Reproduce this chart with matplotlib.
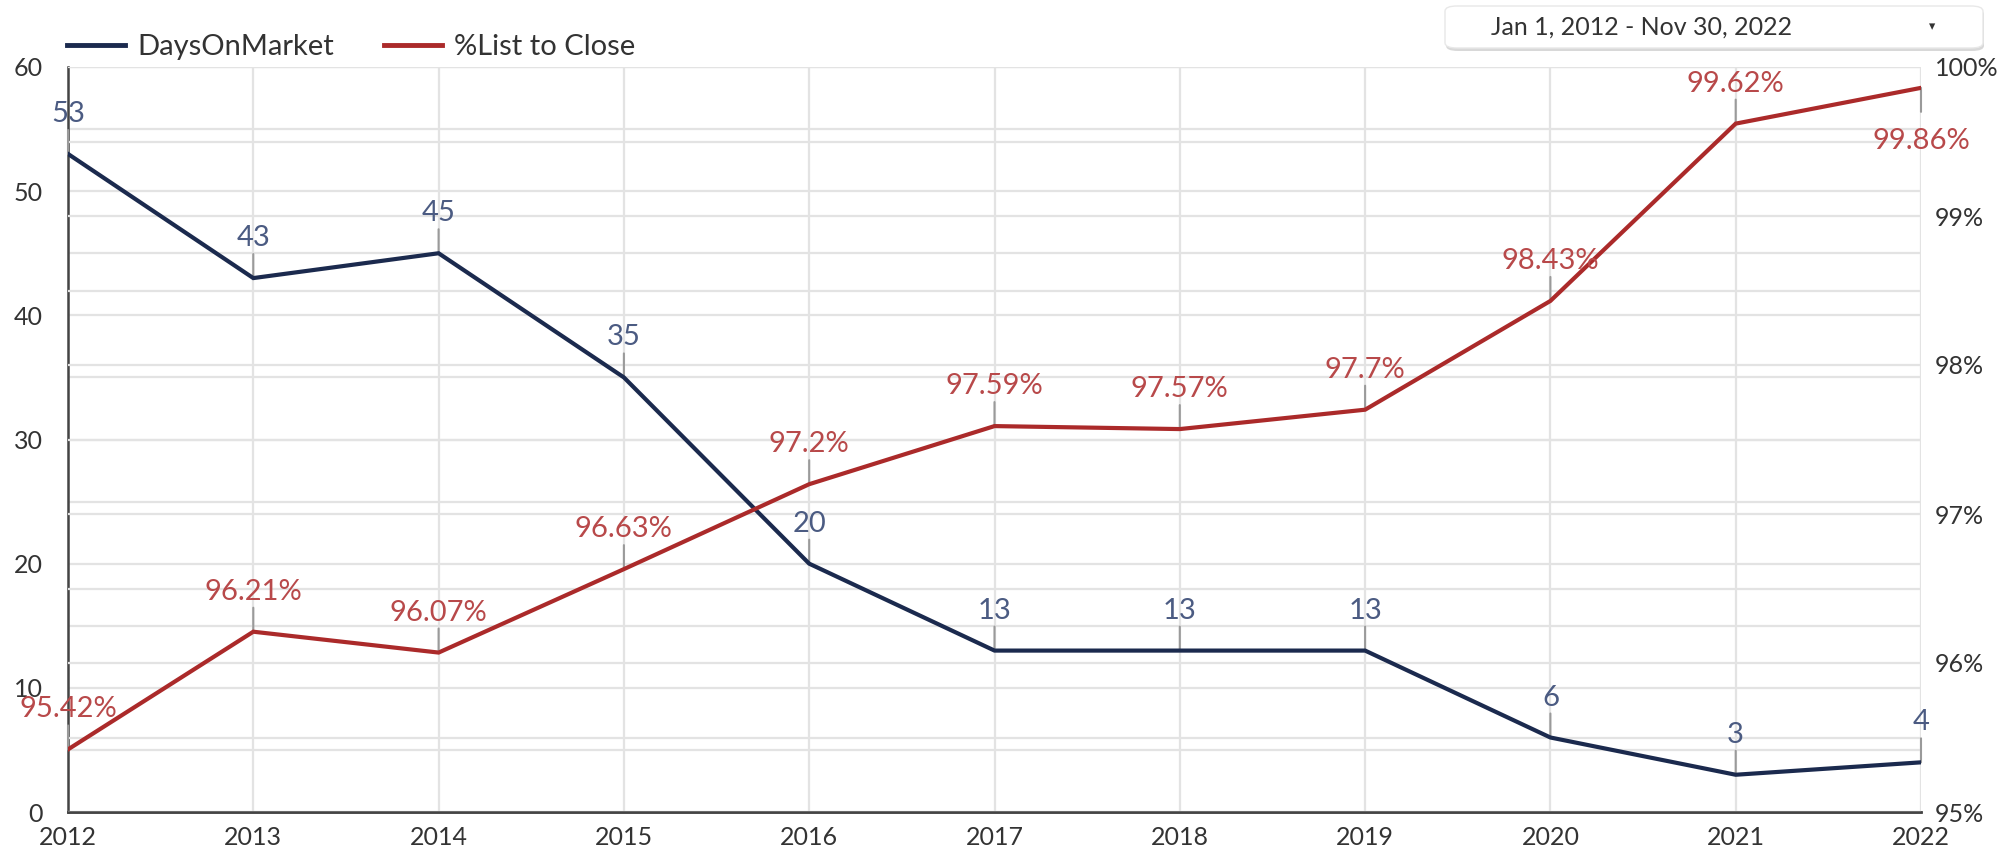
import matplotlib
matplotlib.use("Agg")
import matplotlib.pyplot as plt
from matplotlib.patches import FancyBboxPatch
from matplotlib.lines import Line2D
import numpy as np

plt.rcParams['font.family'] = ['Lato', 'DejaVu Sans']

years = [2012, 2013, 2014, 2015, 2016, 2017, 2018, 2019, 2020, 2021, 2022]
days_on_market = [53, 43, 45, 35, 20, 13, 13, 13, 6, 3, 4]
list_to_close = [95.42, 96.21, 96.07, 96.63, 97.2, 97.59, 97.57, 97.7, 98.43, 99.62, 99.86]
list_labels = ["95.42%", "96.21%", "96.07%", "96.63%", "97.2%", "97.59%", "97.57%",
               "97.7%", "98.43%", "99.62%", "99.86%"]
left_ticks = [0, 10, 20, 30, 40, 50, 60]
right_ticks = [95, 96, 97, 98, 99, 100]
right_tick_labels = ["95%", "96%", "97%", "98%", "99%", "100%"]
series_names = ["DaysOnMarket", "%List to Close"]
date_range_text = "Jan 1, 2012 - Nov 30, 2022"

NAVY = "#1b2a4e"
NAVY_LBL = "#4b5b82"
RED = "#ab2a2a"
RED_LBL = "#b8494a"
GRID = "#e3e3e3"
TXT = "#333333"

W, H = 2010, 857
fig = plt.figure(figsize=(W / 100, H / 100), dpi=100)
L, R, T, B = 68, 1921, 67, 812
ax = fig.add_axes([L / W, 1 - B / H, (R - L) / W, (B - T) / H])
ax2 = ax.twinx()

ax.set_xlim(2012, 2022)
ax.set_ylim(0, 60)
ax2.set_ylim(95, 100)

# grids
ax.set_xticks(years)
ax.set_yticks(left_ticks)
ax.set_yticks(np.arange(0, 61, 5), minor=True)
ax2.set_yticks(right_ticks)
ax2.set_yticks(np.arange(95, 100.01, 0.5), minor=True)
for a in (ax, ax2):
    a.set_axisbelow(True)
ax.grid(True, which='both', axis='both', color=GRID, lw=1.6)
ax2.grid(True, which='both', axis='y', color=GRID, lw=1.6)
ax.tick_params(axis='y', which='both', length=0, labelsize=18, labelcolor=TXT, pad=18)
ax.tick_params(axis='x', which='both', length=0, labelsize=18, labelcolor=TXT, pad=10)
ax2.tick_params(axis='y', which='both', length=0, labelsize=18, labelcolor=TXT, pad=10)
ax.set_xticklabels([str(y) for y in years])
ax2.set_yticklabels(right_tick_labels)

for a in (ax, ax2):
    for s in ('top', 'right'):
        a.spines[s].set_visible(False)
    a.spines['left'].set_color('#444444')
    a.spines['left'].set_linewidth(1.8)
    a.spines['bottom'].set_color('#444444')
    a.spines['bottom'].set_linewidth(1.8)
ax2.spines['left'].set_visible(False)

# lines (all on ax2 so they sit above every gridline)
ax2.plot(years, days_on_market, color=NAVY, lw=3, transform=ax.transData,
         solid_joinstyle='miter', zorder=5)
ax2.plot(years, list_to_close, color=RED, lw=3, solid_joinstyle='miter', zorder=5)

STUB = 24
GAP = 3
def label(x, y, text, color, trans, below=False):
    sign = -1 if below else 1
    ax2.annotate("", xy=(x, y), xycoords=trans, xytext=(0, sign * STUB),
                 textcoords='offset pixels',
                 arrowprops=dict(arrowstyle='-', color='#9a9a9a', lw=1.5,
                                 shrinkA=0, shrinkB=0), zorder=4)
    off = (STUB + GAP) if not below else (STUB + 16)
    ax2.annotate(text, xy=(x, y), xycoords=trans,
                 xytext=(0, sign * off), textcoords='offset pixels',
                 ha='center', va='top' if below else 'bottom', fontsize=21,
                 color=color, zorder=6, annotation_clip=False)

for x, v in zip(years, days_on_market):
    label(x, v, str(v), NAVY_LBL, ax.transData)
for i, (x, v) in enumerate(zip(years, list_to_close)):
    label(x, v, list_labels[i], RED_LBL, ax2.transData, below=(i == len(years) - 1))

# legend
leg_y = 1 - 47 / H
handles = [Line2D([], [], color=NAVY, lw=3.5), Line2D([], [], color=RED, lw=3.5)]
fig.legend(handles, series_names, loc='center left', bbox_to_anchor=(67 / W, leg_y),
           ncol=2, frameon=False, fontsize=21, handlelength=2.0, handletextpad=0.42,
           columnspacing=1.7, labelcolor=TXT, borderaxespad=0, borderpad=0)

# date range box
bx0, by0, bw, bh = 1445 / W, 1 - 48 / H, 538 / W, 42 / H
shadow = FancyBboxPatch((bx0 + 1 / W, by0 - 3 / H), bw, bh, transform=fig.transFigure,
                        boxstyle="round,pad=0,rounding_size=0.006", fc='#cfcfcf', ec='none',
                        alpha=0.8, zorder=1)
box = FancyBboxPatch((bx0, by0), bw, bh, transform=fig.transFigure,
                     boxstyle="round,pad=0,rounding_size=0.006", fc='white', ec='#e8e8e8',
                     lw=1, zorder=2)
fig.patches.extend([shadow, box])
fig.text(1642 / W, by0 + bh / 2, date_range_text, ha='center', va='center',
         fontsize=18, color=TXT, zorder=3)
fig.text(1932 / W, by0 + bh / 2, "\u25BE", ha='center', va='center', fontsize=9,
         color=TXT, family=['DejaVu Sans'], zorder=3)

fig.savefig("out.png", dpi=100)
